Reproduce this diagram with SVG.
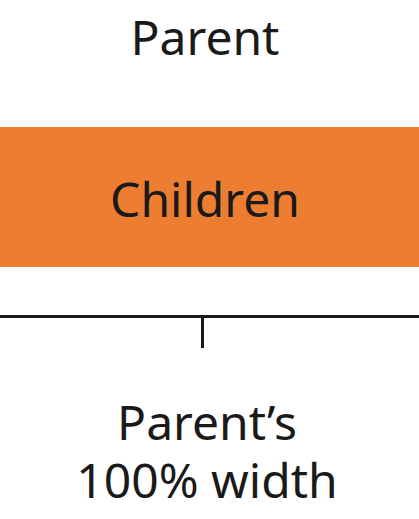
<svg xmlns="http://www.w3.org/2000/svg" width="419" height="519" viewBox="0 0 419 519">
<style>
.t{font-family:"Noto Sans","Open Sans",sans-serif;font-size:48px;fill:#1a1a1a;text-anchor:middle}
</style>
<rect width="419" height="519" fill="#fff"/>
<g id="parent"><text class="t" x="205" y="55">Parent</text></g>
<g id="children"><rect x="0" y="127" width="419" height="140" fill="#ED7D31"/><text class="t" x="205" y="217">Children</text></g>
<g id="connectors"><path d="M0 316.5H419M202.5 316.5V348" stroke="#1a1a1a" stroke-width="3" fill="none"/></g>
<g id="label"><text class="t" x="207" y="440">Parent’s</text><text class="t" x="207" y="498">100% width</text></g>
</svg>
